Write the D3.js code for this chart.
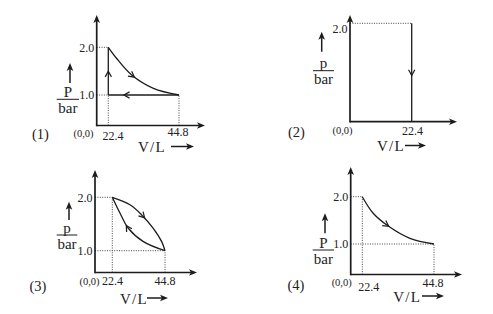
<!DOCTYPE html>
<html>
<head>
<meta charset="utf-8">
<script src="https://cdn.jsdelivr.net/npm/d3@7"></script>
<style>
  html, body { margin: 0; padding: 0; background: #fff; }
  svg { display: block; }
  text { font-family: "Liberation Serif", "DejaVu Serif", serif; fill: #222; }
</style>
</head>
<body>
<svg id="chart" width="493" height="314"></svg>
<script>
// ---------- DATA ----------
const panelLabels = ["(1)", "(2)", "(3)", "(4)"];
const pressureSymbols = ["P", "p", "p", "P"];
const volumeTickValues = [22.4, 44.8];
const volumeTickLabels = ["22.4", "44.8"];
const pressureTickValues = [1.0, 2.0];
const pressureTickLabels = ["1.0", "2.0"];
const originLabel = "(0,0)";
const xAxisTitle = "V/L";
const yAxisUnit = "bar";

// Panel 1: expansion curve, return at 1 bar, rise at 22.4 L
const p1CurveV = [22.4, 25.0, 29.8, 36.7, 44.8];
const p1CurveP = [2.0, 1.77, 1.42, 1.14, 1.0];
const p1ReturnV = [44.8, 22.4];
const p1ReturnP = [1.0, 1.0];
const p1RiseV = [22.4, 22.4];
const p1RiseP = [1.0, 2.0];

// Panel 2: isochoric drop at 22.4 L
const p2DropV = [22.4, 22.4];
const p2DropP = [2.0, 0.0];

// Panel 3: cycle between two curves
const p3UpperV = [22.4, 29.9, 34.9, 39.8, 43.4, 44.8];
const p3UpperP = [2.0, 1.86, 1.67, 1.42, 1.17, 1.0];
const p3LowerV = [44.8, 35.6, 29.2, 25.7, 22.4];
const p3LowerP = [1.0, 1.17, 1.42, 1.70, 2.0];

// Panel 4: expansion curve
const p4CurveV = [22.4, 25.8, 30.5, 37.3, 44.8];
const p4CurveP = [2.0, 1.65, 1.38, 1.12, 1.0];

const zip = (vs, ps) => vs.map((v, i) => [v, ps[i]]);

// ---------- LAYOUT (per panel) ----------
const panels = [
  {
    label: 0,
    xRange: [96.7, 108.3, 179], xDomain: [0, 22.4, 44.8],
    yRange: [125.5, 95, 47.3], yDomain: [0, 1, 2],
    xEnd: 205, yEnd: 15,
    xTicks: [0, 1], yTicks: [0, 1],
    xTickPos: [[113, 135.5], [178, 131.5]],
    originPos: [83.5, 133.3],
    labelPos: [40.5, 133.5],
    vlPos: [138, 147], vlArrow: [171, 194, 146.5],
    upArrow: [70, 83, 63],
    fracX: [56.7, 79], fracY: 99.3,
    guides: [[[0, 2], [22.4, 2]], [[0, 1], [22.4, 1]], [[22.4, 0], [22.4, 1]], [[44.8, 0], [44.8, 1]]],
    paths: [
      { pts: zip(p1CurveV, p1CurveP), arrowAt: 0.45 },
      { pts: zip(p1ReturnV, p1ReturnP), arrowAt: 0.78 },
      { pts: zip(p1RiseV, p1RiseP), arrowAt: 0.5 }
    ]
  },
  {
    label: 1,
    xRange: [350, 411.7], xDomain: [0, 22.4],
    yRange: [121.7, 23.3], yDomain: [0, 2],
    xEnd: 457, yEnd: 15,
    xTicks: [0], yTicks: [1],
    xTickPos: [[412.5, 130.5]],
    originPos: [342.5, 130.5],
    labelPos: [296.5, 131.5],
    vlPos: [377, 146], vlArrow: [405, 426, 145.5],
    upArrow: [321.7, 51.7, 31.7],
    fracX: [313, 334], fracY: 70.7,
    yLabelX: 347.5, yLabelY: [null, 28.3],
    guides: [[[0, 2], [22.4, 2]]],
    paths: [
      { pts: zip(p2DropV, p2DropP), arrowAt: 0.53 }
    ]
  },
  {
    label: 2,
    xRange: [95, 112.3, 165], xDomain: [0, 22.4, 44.8],
    yRange: [272.5, 250.7, 197.3], yDomain: [0, 1, 2],
    xEnd: 197, yEnd: 170,
    xTicks: [0, 1], yTicks: [0, 1],
    xTickPos: [[112.5, 281], [165, 281]],
    originPos: [89.5, 281],
    labelPos: [38, 286],
    vlPos: [120, 298.5], vlArrow: [147, 168, 298],
    upArrow: [69, 220, 201.7],
    fracX: [56.7, 77.3], fracY: 235,
    guides: [[[0, 2], [22.4, 2]], [[0, 1], [44.8, 1]], [[22.4, 0], [22.4, 2]], [[44.8, 0], [44.8, 1]]],
    paths: [
      { pts: zip(p3UpperV, p3UpperP), arrowAt: 0.5 },
      { pts: zip(p3LowerV, p3LowerP), arrowAt: 0.6 }
    ]
  },
  {
    label: 3,
    xRange: [350.7, 362.3, 434], xDomain: [0, 22.4, 44.8],
    yRange: [274.5, 244, 196.7], yDomain: [0, 1, 2],
    xEnd: 462, yEnd: 167,
    xTicks: [0, 1], yTicks: [0, 1],
    xTickPos: [[368.7, 287], [433, 283]],
    originPos: [341.7, 282.5],
    labelPos: [296, 284.5],
    vlPos: [393.3, 297], vlArrow: [422, 444, 296],
    upArrow: [325, 233.3, 213.3],
    fracX: [312.7, 334], fracY: 250,
    guides: [[[0, 2], [22.4, 2]], [[0, 1], [44.8, 1]], [[22.4, 0], [22.4, 2]], [[44.8, 0], [44.8, 1]]],
    paths: [
      { pts: zip(p4CurveV, p4CurveP), arrowAt: 0.45 }
    ]
  }
];

// ---------- DRAW ----------
const svg = d3.select("#chart");
const INK = "#1c1c1c";

function filledHead(g, tipX, tipY, dir) {
  const L = 8, W = 3.3;
  let pts;
  if (dir === "up") pts = [[tipX, tipY], [tipX - W, tipY + L], [tipX, tipY + L - 2], [tipX + W, tipY + L]];
  else pts = [[tipX, tipY], [tipX - L, tipY - W], [tipX - L + 2, tipY], [tipX - L, tipY + W]];
  g.append("path").attr("d", d3.line()(pts) + "Z").attr("fill", INK);
}

panels.forEach(p => {
  const x = d3.scaleLinear().domain(p.xDomain).range(p.xRange);
  const y = d3.scaleLinear().domain(p.yDomain).range(p.yRange);
  const g = svg.append("g");
  const ox = x(0), oy = y(0);

  // dotted guides
  g.selectAll(".guide").data(p.guides).join("path")
    .attr("d", d => d3.line().x(q => x(q[0])).y(q => y(q[1]))(d))
    .attr("fill", "none").attr("stroke", "#444").attr("stroke-width", 1)
    .attr("stroke-dasharray", "1,1.4");

  // axes
  g.append("line").attr("x1", ox).attr("y1", oy).attr("x2", p.xEnd - 4).attr("y2", oy)
    .attr("stroke", INK).attr("stroke-width", 1.7);
  g.append("line").attr("x1", ox).attr("y1", oy + 0.8).attr("x2", ox).attr("y2", p.yEnd + 4)
    .attr("stroke", INK).attr("stroke-width", 1.7);
  filledHead(g, p.xEnd, oy, "right");
  filledHead(g, ox, p.yEnd, "up");

  // process paths
  const line = d3.line().x(q => x(q[0])).y(q => y(q[1])).curve(d3.curveCatmullRom.alpha(0.5));
  p.paths.forEach(pp => {
    const path = g.append("path").attr("d", line(pp.pts))
      .attr("fill", "none").attr("stroke", INK).attr("stroke-width", 1.3);
    const node = path.node();
    const len = node.getTotalLength();
    const a = node.getPointAtLength(len * pp.arrowAt);
    const b = node.getPointAtLength(Math.min(len, len * pp.arrowAt + 1));
    const ang = Math.atan2(b.y - a.y, b.x - a.x);
    const arm = 6.5, spread = 0.5;
    const p1 = [a.x - arm * Math.cos(ang - spread), a.y - arm * Math.sin(ang - spread)];
    const p2 = [a.x - arm * Math.cos(ang + spread), a.y - arm * Math.sin(ang + spread)];
    g.append("path").attr("d", d3.line()([p1, [a.x, a.y], p2]))
      .attr("fill", "none").attr("stroke", INK).attr("stroke-width", 1.2);
  });

  // pressure tick labels
  p.yTicks.forEach(i => {
    const yy = (p.yLabelY && p.yLabelY[i] != null) ? p.yLabelY[i] : y(pressureTickValues[i]);
    g.append("text").attr("x", p.yLabelX || (ox - 2.5)).attr("y", yy).attr("dy", "0.35em")
      .attr("text-anchor", "end").attr("font-size", 12).text(pressureTickLabels[i]);
  });
  // volume tick labels
  p.xTicks.forEach((i, k) => {
    g.append("text").attr("x", p.xTickPos[k][0]).attr("y", p.xTickPos[k][1]).attr("dy", "0.35em")
      .attr("text-anchor", "middle").attr("font-size", 12).text(volumeTickLabels[i]);
  });
  // origin
  g.append("text").attr("x", p.originPos[0]).attr("y", p.originPos[1]).attr("dy", "0.35em")
    .attr("text-anchor", "middle").attr("font-size", 10.5).text(originLabel);
  // panel label
  g.append("text").attr("x", p.labelPos[0]).attr("y", p.labelPos[1]).attr("dy", "0.35em")
    .attr("text-anchor", "middle").attr("font-size", 14.5).text(panelLabels[p.label]);
  // V/L
  g.append("text").attr("x", p.vlPos[0]).attr("y", p.vlPos[1]).attr("dy", "0.35em")
    .attr("font-size", 15).attr("letter-spacing", 1.2).text(xAxisTitle);
  g.append("line").attr("x1", p.vlArrow[0]).attr("x2", p.vlArrow[1] - 5)
    .attr("y1", p.vlArrow[2]).attr("y2", p.vlArrow[2]).attr("stroke", INK).attr("stroke-width", 1.5);
  filledHead(g, p.vlArrow[1], p.vlArrow[2], "right");
  // P / bar
  g.append("line").attr("x1", p.upArrow[0]).attr("x2", p.upArrow[0])
    .attr("y1", p.upArrow[1]).attr("y2", p.upArrow[2] + 5).attr("stroke", INK).attr("stroke-width", 1.5);
  filledHead(g, p.upArrow[0], p.upArrow[2], "up");
  const fx = (p.fracX[0] + p.fracX[1]) / 2;
  g.append("line").attr("x1", p.fracX[0]).attr("x2", p.fracX[1]).attr("y1", p.fracY).attr("y2", p.fracY)
    .attr("stroke", INK).attr("stroke-width", 1);
  g.append("text").attr("x", fx).attr("y", p.fracY - 2.5).attr("text-anchor", "middle")
    .attr("font-size", 15).text(pressureSymbols[p.label]);
  g.append("text").attr("x", fx).attr("y", p.fracY + 13.5).attr("text-anchor", "middle")
    .attr("font-size", 15).text(yAxisUnit);
});
</script>
</body>
</html>
